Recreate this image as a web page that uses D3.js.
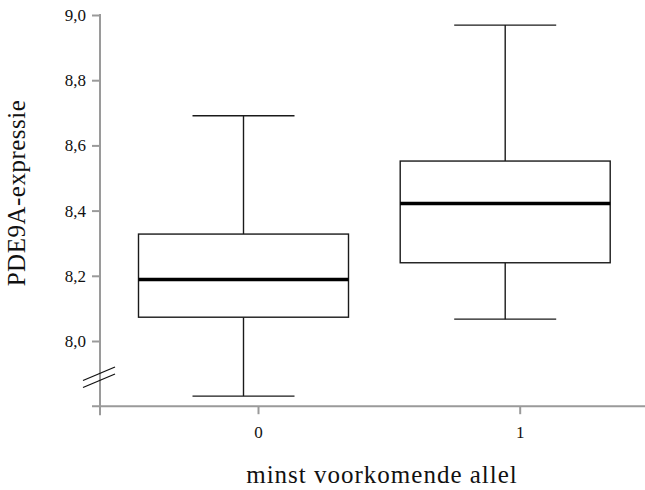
<!DOCTYPE html>
<html>
<head>
<meta charset="utf-8">
<script src="https://cdn.jsdelivr.net/npm/d3@7"></script>
<style>
  body { margin: 0; background: #fff; }
  svg { display: block; font-family: "Liberation Serif", "DejaVu Serif", serif; }
  svg text { font-family: "Liberation Serif", "DejaVu Serif", serif !important; }
</style>
</head>
<body>
<svg id="chart"></svg>
<script>
// Data
const groups = ["0", "1"];
const whiskerLow = [7.831, 8.067];
const q1 = [8.073, 8.240];
const median = [8.189, 8.422];
const q3 = [8.328, 8.552];
const whiskerHigh = [8.691, 8.969];
const yTicks = [8.0, 8.2, 8.4, 8.6, 8.8, 9.0];

const width = 645;
const height = 490;

const svg = d3.select("#chart")
    .attr("width", width)
    .attr("height", height);

// Scales
const y = d3.scaleLinear().domain([7.8, 9.0]).range([406.2, 15]);
const x = d3.scalePoint().domain(groups).range([243.5, 505.2]);
const tickShift = 14.5;   // category ticks sit a little right of the boxes
const axisX = 100;
const axisY = y(7.8);
const boxHalf = 105;
const capHalf = 51;
const axisColor = "#9a9a9a";

const fmt = d => d3.format(".1f")(d).replace(".", ",");

// Y axis
const yAxis = svg.append("g")
    .attr("transform", `translate(${axisX},0)`)
    .call(d3.axisLeft(y).tickValues(yTicks).tickFormat(fmt).tickSize(8).tickPadding(6))
    .attr("font-family", null)
    .attr("font-size", null);
yAxis.select(".domain").remove();
yAxis.selectAll(".tick line").attr("stroke", axisColor).attr("stroke-width", 2);
yAxis.selectAll(".tick text")
    .style("font-size", "17px")
    .attr("fill", "#111");

svg.append("line")
    .attr("x1", axisX).attr("x2", axisX)
    .attr("y1", y(9.0) - 1).attr("y2", axisY + 9)
    .attr("stroke", axisColor).attr("stroke-width", 2);

// X axis
const xAxis = svg.append("g")
    .attr("transform", `translate(${tickShift},${axisY})`)
    .call(d3.axisBottom(x).tickSize(8).tickPadding(12))
    .attr("font-family", null)
    .attr("font-size", null);
xAxis.select(".domain").remove();
xAxis.selectAll(".tick line").attr("stroke", axisColor).attr("stroke-width", 2);
xAxis.selectAll(".tick text")
    .style("font-size", "17px")
    .attr("fill", "#111");

svg.append("line")
    .attr("x1", axisX - 8).attr("x2", width)
    .attr("y1", axisY).attr("y2", axisY)
    .attr("stroke", axisColor).attr("stroke-width", 2);

// Axis break marks
const brk = svg.append("g").attr("stroke", "#111").attr("stroke-width", 1.3);
[0, 7].forEach(dy => {
    brk.append("line")
        .attr("x1", axisX - 17).attr("y1", 380.5 + dy)
        .attr("x2", axisX + 15).attr("y2", 367 + dy);
});

// Boxes
const boxes = svg.append("g")
    .selectAll("g")
    .data(groups)
    .join("g")
    .attr("stroke", "#1a1a1a")
    .attr("fill", "none");

boxes.append("line")
    .attr("x1", d => x(d)).attr("x2", d => x(d))
    .attr("y1", (d, i) => y(whiskerHigh[i])).attr("y2", (d, i) => y(q3[i]))
    .attr("stroke-width", 1.4);
boxes.append("line")
    .attr("x1", d => x(d)).attr("x2", d => x(d))
    .attr("y1", (d, i) => y(q1[i])).attr("y2", (d, i) => y(whiskerLow[i]))
    .attr("stroke-width", 1.4);
boxes.append("line")
    .attr("x1", d => x(d) - capHalf).attr("x2", d => x(d) + capHalf)
    .attr("y1", (d, i) => y(whiskerHigh[i])).attr("y2", (d, i) => y(whiskerHigh[i]))
    .attr("stroke-width", 1.4);
boxes.append("line")
    .attr("x1", d => x(d) - capHalf).attr("x2", d => x(d) + capHalf)
    .attr("y1", (d, i) => y(whiskerLow[i])).attr("y2", (d, i) => y(whiskerLow[i]))
    .attr("stroke-width", 1.4);
boxes.append("rect")
    .attr("x", d => x(d) - boxHalf)
    .attr("width", boxHalf * 2)
    .attr("y", (d, i) => y(q3[i]))
    .attr("height", (d, i) => y(q1[i]) - y(q3[i]))
    .attr("fill", "#fff")
    .attr("stroke-width", 1.4);
boxes.append("line")
    .attr("x1", d => x(d) - boxHalf).attr("x2", d => x(d) + boxHalf)
    .attr("y1", (d, i) => y(median[i])).attr("y2", (d, i) => y(median[i]))
    .attr("stroke", "#000")
    .attr("stroke-width", 3.5);

// Axis titles
svg.append("text")
    .attr("x", 382)
    .attr("y", 483)
    .attr("text-anchor", "middle")
    .style("font-size", "25px")
    .style("letter-spacing", "1px")
    .attr("fill", "#111")
    .text("minst voorkomende allel");

svg.append("text")
    .attr("transform", "translate(25,193) rotate(-90)")
    .attr("text-anchor", "middle")
    .style("font-size", "25px")
    .style("letter-spacing", "0.5px")
    .attr("fill", "#111")
    .text("PDE9A-expressie");
</script>
</body>
</html>
